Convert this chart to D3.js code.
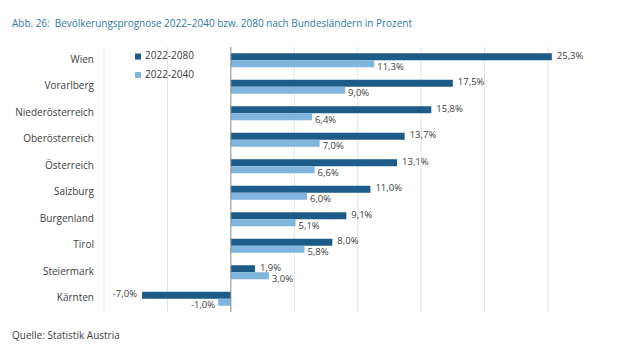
<!DOCTYPE html>
<html>
<head>
<meta charset="utf-8">
<script src="https://cdn.jsdelivr.net/npm/d3@7"></script>
<style>
  body { margin: 0; background: #fff; }
  svg { display: block; }
</style>
</head>
<body>
<div id="chart"></div>
<script>
const categories = ["Wien", "Vorarlberg", "Niederösterreich", "Oberösterreich", "Österreich",
  "Salzburg", "Burgenland", "Tirol", "Steiermark", "Kärnten"];
const values2080 = [25.3, 17.5, 15.8, 13.7, 13.1, 11.0, 9.1, 8.0, 1.9, -7.0];
const values2040 = [11.3, 9.0, 6.4, 7.0, 6.6, 6.0, 5.1, 5.8, 3.0, -1.0];
const seriesNames = ["2022-2080", "2022-2040"];
const gridTicks = [-10, -5, 5, 10, 15, 20, 25];

const width = 620, height = 364;
const colors = ["#1d5b88", "#80b5de"];
const barH = 7;

const svg = d3.select("#chart").append("svg")
  .attr("width", width)
  .attr("height", height);

const x = d3.scaleLinear().domain([-10, 25]).range([104, 548]);
const y = d3.scaleBand().domain(categories).range([47, 312]).padding(0);

const fmt = v => d3.format(".1f")(v).replace(".", ",").replace("\u2212", "-") + "%";

// title
svg.append("text")
  .attr("x", 12).attr("y", 27)
  .attr("textLength", 400)
  .attr("lengthAdjust", "spacingAndGlyphs")
  .style("font-family", "Open Sans")
  .style("font-size", "11px")
  .style("fill", "#2b7aa7")
  .text("Abb. 26:\u00a0\u00a0Bevölkerungsprognose 2022–2040 bzw. 2080 nach Bundesländern in Prozent");

// gridlines
svg.append("g")
  .selectAll("line")
  .data(gridTicks)
  .join("line")
  .attr("x1", d => x(d)).attr("x2", d => x(d))
  .attr("y1", 47).attr("y2", 312)
  .style("stroke", "#e3e3e3")
  .style("stroke-width", 1);

const rows = categories.map((c, i) => ({cat: c, a: values2080[i], b: values2040[i]}));

// bars
const g = svg.append("g");
g.selectAll("rect.dark")
  .data(rows)
  .join("rect")
  .attr("class", "dark")
  .attr("x", d => x(Math.min(0, d.a)))
  .attr("width", d => Math.abs(x(d.a) - x(0)))
  .attr("y", d => y(d.cat) + y.bandwidth() / 2 - barH)
  .attr("height", barH)
  .style("fill", colors[0]);
g.selectAll("rect.light")
  .data(rows)
  .join("rect")
  .attr("class", "light")
  .attr("x", d => x(Math.min(0, d.b)))
  .attr("width", d => Math.abs(x(d.b) - x(0)))
  .attr("y", d => y(d.cat) + y.bandwidth() / 2)
  .attr("height", barH)
  .style("fill", colors[1]);

// zero axis
svg.append("line")
  .attr("x1", x(0)).attr("x2", x(0))
  .attr("y1", 47).attr("y2", 312)
  .style("stroke", "#8c8c8c")
  .style("stroke-width", 1);

// value labels
const labelStyle = sel => sel
  .style("font-family", "Open Sans")
  .style("font-size", "9.5px")
  .style("fill", "#404040")
  .attr("dominant-baseline", "middle");

g.selectAll("text.la")
  .data(rows)
  .join("text")
  .attr("class", "la")
  .attr("x", d => d.a >= 0 ? x(d.a) + 5 : x(d.a) - 5)
  .attr("y", d => y(d.cat) + y.bandwidth() / 2 - barH / 2 - 0.5)
  .attr("text-anchor", d => d.a >= 0 ? "start" : "end")
  .call(labelStyle)
  .text(d => fmt(d.a));
g.selectAll("text.lb")
  .data(rows)
  .join("text")
  .attr("class", "lb")
  .attr("x", d => d.b >= 0 ? x(d.b) + 3 : x(d.b) - 3)
  .attr("y", d => y(d.cat) + y.bandwidth() / 2 + barH / 2 + 3.5)
  .attr("text-anchor", d => d.b >= 0 ? "start" : "end")
  .call(labelStyle)
  .text(d => fmt(d.b));

// category labels
svg.append("g")
  .selectAll("text")
  .data(categories)
  .join("text")
  .attr("x", 94)
  .attr("y", d => y(d) + y.bandwidth() / 2)
  .attr("text-anchor", "end")
  .attr("dominant-baseline", "middle")
  .style("font-family", "Open Sans")
  .style("font-size", "10px")
  .style("fill", "#404040")
  .text(d => d);

// legend
const legend = svg.append("g")
  .selectAll("g")
  .data(seriesNames)
  .join("g")
  .attr("transform", (d, i) => `translate(135,${56.5 + i * 18.5})`);
legend.append("rect")
  .attr("x", 0).attr("y", -3)
  .attr("width", 6).attr("height", 6)
  .style("fill", (d, i) => colors[i]);
legend.append("text")
  .attr("x", 10).attr("y", 0)
  .attr("dominant-baseline", "middle")
  .style("font-family", "Open Sans")
  .style("font-size", "10px")
  .style("fill", "#404040")
  .text(d => d);

// source
svg.append("text")
  .attr("x", 12).attr("y", 339)
  .style("font-family", "Open Sans")
  .style("font-size", "10px")
  .style("fill", "#404040")
  .text("Quelle: Statistik Austria");
</script>
</body>
</html>
